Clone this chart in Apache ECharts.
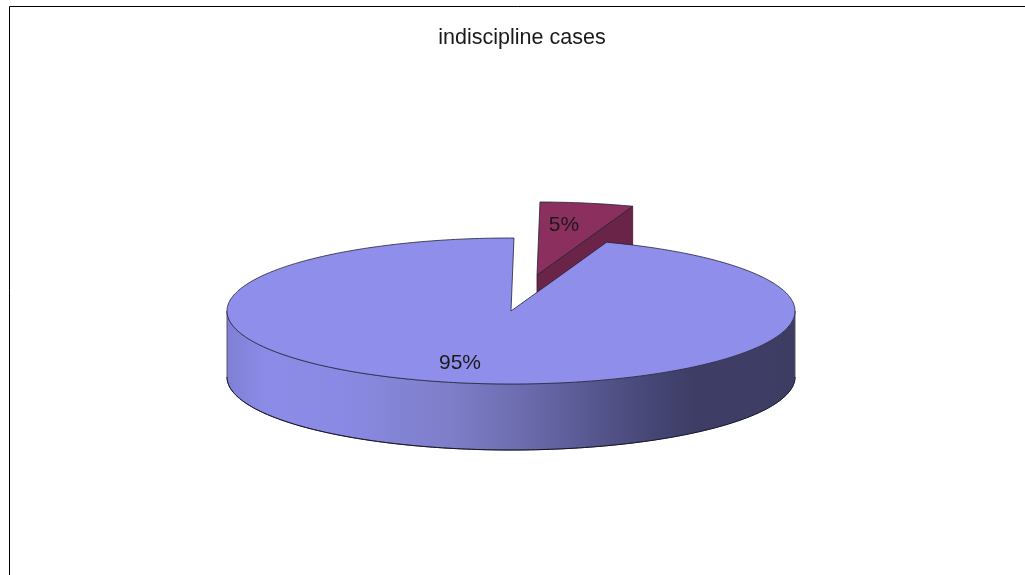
<!DOCTYPE html>
<html>
<head>
<meta charset="utf-8">
<style>html,body{margin:0;padding:0;background:#fff}#c{width:1025px;height:575px}</style>
<script src="https://cdn.jsdelivr.net/npm/echarts@6/dist/echarts.min.js"></script>
</head>
<body>
<div id="c"></div>
<script>
const chartTitle = 'indiscipline cases';
const categories = ['indiscipline', 'other'];
const values = [5.3, 94.7];
const shownPercents = ['5%', '95%'];
const topColors = ['#8b2f5e', '#8f8feb'];
const wallColors = ['#6a2448', '#3d3d66'];

const CX = 511, CY = 311, RX = 284, RY = 73, DEPTH = 66;
const START_DEG = 0.6;
const EXPLODE = [[26, -36], [0, 0]];
const LABEL_POS = [[564, 225], [460, 363]];

const total = values.reduce((a, b) => a + b, 0);
const starts = [];
values.reduce((acc, v, i) => { starts[i] = acc; return acc + v / total * 360; }, START_DEG);

function pt(deg, ox, oy, dz) {
  const t = deg * Math.PI / 180;
  return [CX + ox + RX * Math.sin(t), CY + oy - RY * Math.cos(t) + (dz || 0)];
}
function arc(a, b, ox, oy, dz) {
  const pts = [];
  const step = a <= b ? 1 : -1;
  for (let d = a; step > 0 ? d < b : d > b; d += step) pts.push(pt(d, ox, oy, dz));
  pts.push(pt(b, ox, oy, dz));
  return pts;
}
const wallGradient = {
  type: 'linear', x: 0, y: 0, x2: 1, y2: 0,
  colorStops: [
    { offset: 0, color: '#7f7fd4' },
    { offset: 0.07, color: '#8c8ce8' },
    { offset: 0.2, color: '#8a8ae4' },
    { offset: 0.4, color: '#7d7dc8' },
    { offset: 0.55, color: '#6767a8' },
    { offset: 0.72, color: '#4a4a7c' },
    { offset: 0.82, color: '#3d3d66' },
    { offset: 1, color: '#3d3d64' }
  ]
};

function renderSlice(params, api) {
  const i = params.dataIndex;
  const value = api.value(1);
  const a0 = starts[i];
  const a1 = a0 + value / total * 360;
  const [ox, oy] = EXPLODE[i];
  const apex = [CX + ox, CY + oy];
  const children = [];

  // end cut wall of a slice that stands off from the pie
  if (ox !== 0 || oy !== 0) {
    const e = pt(a1, ox, oy);
    const wall = [apex, e, [e[0], e[1] + DEPTH], [apex[0], apex[1] + DEPTH]];
    children.push({ type: 'polygon', shape: { points: wall },
      style: { fill: wallColors[i], stroke: '#3a1428', lineWidth: 0.8 } });
  }
  // outer rim facing the viewer (90..270 degrees clockwise from the top)
  const from = Math.max(a0, 90), to = Math.min(a1, 270);
  if (from < to) {
    const top = arc(from, to, ox, oy, 0);
    const bottom = arc(to, from, ox, oy, DEPTH);
    children.push({ type: 'polygon', shape: { points: top.concat(bottom) },
      style: { fill: wallGradient, stroke: '#555570', lineWidth: 1 } });
    children.push({ type: 'polyline', shape: { points: arc(from, to, ox, oy, DEPTH) },
      style: { fill: null, stroke: '#14142c', lineWidth: 1 } });
  }
  // top face
  const face = [apex].concat(arc(a0, a1, ox, oy, 0));
  children.push({ type: 'polygon', shape: { points: face },
    style: { fill: topColors[i], stroke: '#22223a', lineWidth: 0.8 } });
  // percentage label
  children.push({ type: 'text', z2: 10, style: {
    text: shownPercents[i], x: LABEL_POS[i][0], y: LABEL_POS[i][1],
    align: 'center', verticalAlign: 'middle',
    font: '21px "Liberation Sans", Arial, sans-serif', fill: '#1a1a1a' } });
  return { type: 'group', children };
}

const chart = echarts.init(document.getElementById('c'), null, { renderer: 'canvas' });
chart.setOption({
  animation: false,
  backgroundColor: '#fff',
  title: {
    text: chartTitle, left: 517, top: 22, textAlign: 'center',
    textStyle: { fontFamily: '"Liberation Sans", Arial, sans-serif', fontSize: 21.5, fontWeight: 'normal', color: '#1a1a1a' }
  },
  graphic: [
    { type: 'polyline', silent: true,
      shape: { points: [[9.5, 575], [9.5, 6.5], [1025, 6.5]] },
      style: { fill: null, stroke: '#000', lineWidth: 1 } }
  ],
  series: [{
    type: 'custom',
    coordinateSystem: 'none',
    renderItem: renderSlice,
    data: categories.map((c, i) => ({ name: c, value: [i, values[i]] }))
  }]
});
</script>
</body>
</html>
